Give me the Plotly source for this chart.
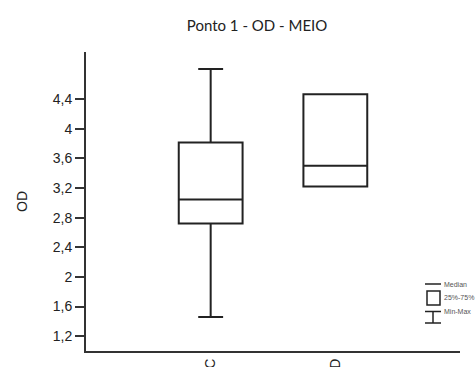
import plotly.graph_objects as go

categories = ["C", "D"]
q1 = [2.72, 3.22]
median = [3.045, 3.50]
q3 = [3.815, 4.465]
lower = [1.46, 3.22]
upper = [4.805, 4.465]

ytick_vals = [1.2, 1.6, 2.0, 2.4, 2.8, 3.2, 3.6, 4.0, 4.4]
ytick_text = ["1,2", "1,6", "2", "2,4", "2,8", "3,2", "3,6", "4", "4,4"]
legend_labels = ["Median", "25%-75%", "Min-Max"]

fig = go.Figure()
fig.add_trace(go.Box(
    x=categories, q1=q1, median=median, q3=q3,
    lowerfence=lower, upperfence=upper,
    fillcolor="rgba(255,255,255,0)",
    line=dict(color="#222222", width=2),
    whiskerwidth=0.39, width=0.512,
    boxpoints=False, showlegend=False, hoverinfo="skip",
))

axis_color = "#333333"
fig.update_layout(
    width=476, height=367,
    margin=dict(l=86, r=16, t=52, b=16, autoexpand=False),
    paper_bgcolor="white", plot_bgcolor="white",
    showlegend=False,
    title=dict(text="Ponto 1 - OD - MEIO", x=0.54, xanchor="center",
               y=1 - 26 / 367, yanchor="middle",
               font=dict(family="Lato", size=15, color="#222222")),
    xaxis=dict(type="category", range=[-1, 2], showline=True,
               linecolor=axis_color, linewidth=2, showgrid=False,
               ticks="", tickangle=-90, zeroline=False,
               tickfont=dict(family="Liberation Sans", size=14, color="#222222"),
               automargin=False),
    yaxis=dict(range=[1.0, 5.035], showline=True, linecolor=axis_color,
               linewidth=2, showgrid=False, zeroline=False,
               ticks="outside", ticklen=9, tickwidth=2, tickcolor=axis_color,
               tickvals=ytick_vals, ticktext=ytick_text,
               tickfont=dict(family="Liberation Sans", size=14, color="#222222"),
               title=dict(text="OD", standoff=22,
                          font=dict(family="Liberation Sans", size=14, color="#222222")),
               automargin=False),
)

# legend glyphs (paper coordinates computed from pixels)
L, R, T, B = 86, 460, 52, 351
def px(x):
    return (x - L) / (R - L)
def py(y):
    return (B - y) / (B - T)

lc = "#222222"
shapes = [
    dict(type="line", x0=px(425), x1=px(441), y0=py(284), y1=py(284)),
    dict(type="rect", x0=px(427), x1=px(440), y0=py(291), y1=py(305)),
    dict(type="line", x0=px(425), x1=px(441), y0=py(311.5), y1=py(311.5)),
    dict(type="line", x0=px(433), x1=px(433), y0=py(311.5), y1=py(323)),
    dict(type="line", x0=px(425), x1=px(441), y0=py(323), y1=py(323)),
]
for s in shapes:
    s.update(xref="paper", yref="paper", line=dict(color=lc, width=1.5))
    fig.add_shape(**s)

for lab, yy in zip(legend_labels, [284, 297, 311]):
    fig.add_annotation(text=lab, xref="paper", yref="paper", x=px(442), y=py(yy),
                       xanchor="left", yanchor="middle", showarrow=False,
                       font=dict(family="Liberation Sans", size=7, color="#555555"))

fig.write_html("out.html")
